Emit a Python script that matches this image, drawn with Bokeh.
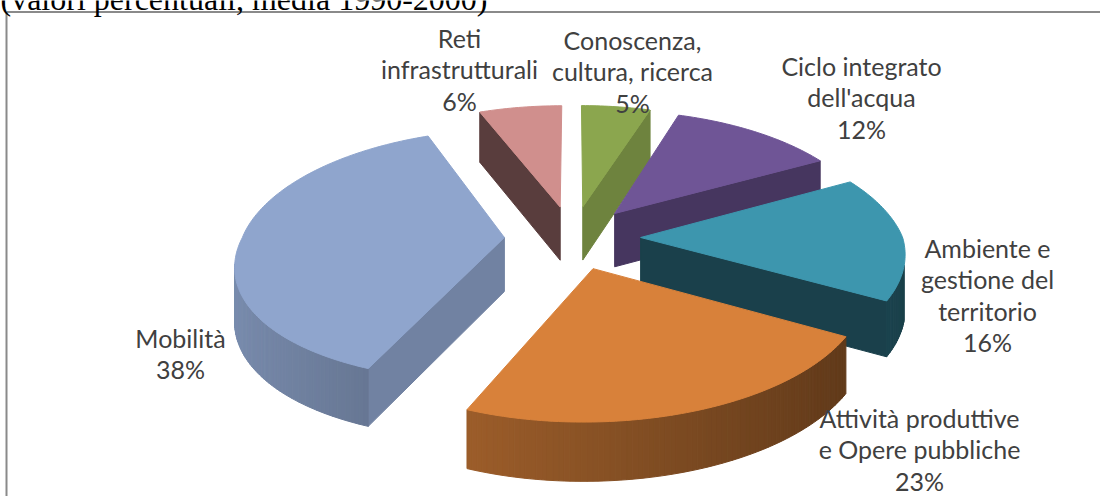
import math

from bokeh.core.properties import value
from bokeh.embed import file_html
from bokeh.models import ColumnDataSource, Range1d
from bokeh.plotting import figure
from bokeh.resources import INLINE

# slices, clockwise from 12 o'clock
labels = ["Conoscenza,\ncultura, ricerca", "Ciclo integrato\ndell'acqua",
          "Ambiente e\ngestione del\nterritorio",
          "Attività produttive\ne Opere pubbliche", "Mobilità",
          "Reti\ninfrastrutturali"]
shares = [5, 12, 16, 23, 38, 6]
colors = ["#8ba64e", "#6f5596", "#3d96ae", "#d8813a", "#8fa5cd", "#d08f8d"]
title = "(valori percentuali, media 1990-2000)"

# label anchors (centre of first line), canvas pixels
label_pos = [(632, 39), (861, 65), (987, 247), (919, 417), (180, 337), (459, 37)]
LINE = 31.5

W, H = 1100, 496
CX, CY = 572, 237        # pie centre on screen
RX, RY = 262, 123        # radius across / in depth
PX, PY = 0.15, 0.137     # perspective strength
SKEW = 14                # near half leans a little to the left
DEPTH = 54               # slice thickness
EXPLODE = 0.26
CAM_V = -5.8             # camera position (in front of the pie)


def proj(u, v, z=0.0):
    sx = 1.0 / (1.0 + PX * v)
    sy = 1.0 / (1.0 + PY * v)
    x = CX + RX * u * sx + SKEW * min(v, 0.0)
    return x, CY - RY * v * sy + DEPTH * z * math.sqrt(sy)


def shade(c, f):
    rgb = [int(c[i:i + 2], 16) for i in (1, 3, 5)]
    return "#%02x%02x%02x" % tuple(min(255, int(round(x * f))) for x in rgb)


def facing(nu, nv, pu, pv):
    return nu * (0 - pu) + nv * (CAM_V - pv)


xs, ys, fills = [], [], []


def add(poly, color):
    xs.append([q[0] for q in poly])
    ys.append([q[1] for q in poly])
    fills.append(color)


total = float(sum(shares))
slices = []
cum = 0.0
for lab, val, col in zip(labels, shares, colors):
    hi = math.radians(90 - cum / total * 360)
    cum += val
    lo = math.radians(90 - cum / total * 360)
    mid = (hi + lo) / 2
    au, av = EXPLODE * math.cos(mid), EXPLODE * math.sin(mid)
    depth_key = av + 0.5 * math.sin(mid)
    slices.append((depth_key, lo, hi, au, av, col))

for _, lo, hi, au, av, col in sorted(slices, key=lambda s: -s[0]):
    n = max(4, int(math.degrees(hi - lo)))
    ts = [lo + (hi - lo) * i / n for i in range(n + 1)]

    # radial walls
    for ang, nu, nv in ((hi, -math.sin(hi), math.cos(hi)),
                        (lo, math.sin(lo), -math.cos(lo))):
        mu, mv = au + 0.5 * math.cos(ang), av + 0.5 * math.sin(ang)
        if facing(nu, nv, mu, mv) > 0.05:
            ru, rv = au + math.cos(ang), av + math.sin(ang)
            nang = math.atan2(nv, nu)
            f = 0.43 + 0.36 * max(0.0, math.cos(nang + math.radians(20))) ** 2
            add([proj(au, av), proj(ru, rv), proj(ru, rv, 1), proj(au, av, 1)],
                shade(col, f))

    # outer wall, in thin strips for the shading
    for t0, t1 in zip(ts[:-1], ts[1:]):
        tm = (t0 + t1) / 2
        if facing(math.cos(tm), math.sin(tm), au + math.cos(tm), av + math.sin(tm)) <= 0:
            continue
        p0 = (au + math.cos(t0), av + math.sin(t0))
        p1 = (au + math.cos(t1), av + math.sin(t1))
        add([proj(*p0), proj(*p1), proj(*p1, 1), proj(*p0, 1)],
            shade(col, 0.64 - 0.22 * math.cos(tm)))

    # top face
    top = [proj(au, av)] + [proj(au + math.cos(t), av + math.sin(t)) for t in ts]
    add(top, col)

p = figure(width=W, height=H, x_range=Range1d(0, W), y_range=Range1d(H, 0),
           toolbar_location=None, output_backend="svg", min_border=0)
p.axis.visible = False
p.grid.visible = False
p.outline_line_color = None
p.background_fill_color = "white"

src = ColumnDataSource(dict(xs=xs, ys=ys, c=fills))
p.patches("xs", "ys", source=src, fill_color="c", line_color="c", line_width=1)

# frame of the chart area and the cut-off subtitle above it
p.segment(x0=[6], y0=[11.5], x1=[W], y1=[11.5], line_color="#8a8a8a", line_width=2)
p.segment(x0=[6], y0=[11.5], x1=[6], y1=[H], line_color="#8a8a8a", line_width=2)
p.text(x=[0], y=[-2], text=[title], text_font=value("Liberation Serif"),
       text_font_size="32px", text_baseline="alphabetic", text_color="black")

tx, ty, tt = [], [], []
for lab, val, (lx, ly) in zip(labels, shares, label_pos):
    for i, line in enumerate(lab.split("\n") + ["%d%%" % val]):
        tx.append(lx)
        ty.append(ly + i * LINE)
        tt.append(line)
p.text(x=tx, y=ty, text=tt, text_font=value("Lato"), text_font_size="25px",
       text_align="center", text_baseline="middle", text_color="#404040")

open("out.html", "w").write(file_html(p, INLINE))
